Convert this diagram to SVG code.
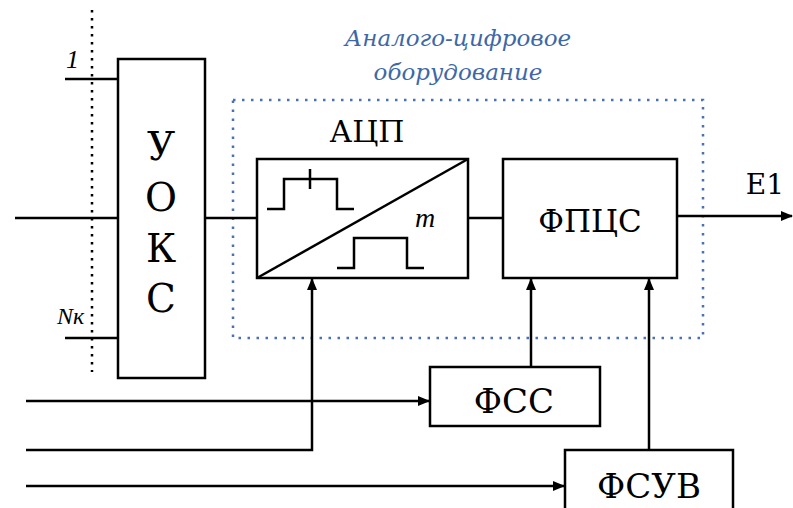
<svg xmlns="http://www.w3.org/2000/svg" width="793" height="508" viewBox="0 0 793 508">
<style>
.box{fill:#fff;stroke:#000;stroke-width:2.5}
.ln{fill:none;stroke:#000;stroke-width:2.5}
.t{font-family:"DejaVu Serif",serif;fill:#000;text-anchor:middle}
.ti{font-family:"Liberation Serif","DejaVu Serif",serif;font-style:italic;fill:#000}
.blue{font-family:"DejaVu Serif",serif;font-style:italic;fill:#3d68a8;text-anchor:middle;font-size:23px}
</style>
<defs>
<marker id="ah" viewBox="0 0 12 10" refX="11" refY="5" markerWidth="12" markerHeight="10" markerUnits="userSpaceOnUse" orient="auto">
<path d="M0,0 L12,5 L0,10 Z" fill="#000"/>
</marker>
</defs>
<rect width="793" height="508" fill="#fff"/>
<line x1="92" y1="10" x2="92" y2="372" stroke="#000" stroke-width="2.5" stroke-dasharray="2.5 5.5"/>
<rect x="233" y="100" width="470" height="238" fill="none" stroke="#4a72b0" stroke-width="2.5" stroke-dasharray="2.5 6.5"/>
<text class="blue" x="458" y="46">Аналого-цифровое</text>
<text class="blue" x="458" y="80">оборудование</text>
<g id="connectors">
<line class="ln" x1="65" y1="79" x2="118" y2="79"/>
<line class="ln" x1="15" y1="218" x2="118" y2="218"/>
<line class="ln" x1="65" y1="338" x2="118" y2="338"/>
<line class="ln" x1="205" y1="218" x2="257" y2="218"/>
<line class="ln" x1="468" y1="218" x2="503" y2="218"/>
<line class="ln" x1="677" y1="216" x2="792" y2="216" marker-end="url(#ah)"/>
<polyline class="ln" points="26,450 312,450 312,279" marker-end="url(#ah)"/>
<line class="ln" x1="26" y1="401" x2="429" y2="401" marker-end="url(#ah)"/>
<line class="ln" x1="531" y1="367" x2="531" y2="279" marker-end="url(#ah)"/>
<line class="ln" x1="26" y1="486" x2="564" y2="486" marker-end="url(#ah)"/>
<line class="ln" x1="649" y1="450" x2="649" y2="279" marker-end="url(#ah)"/>
</g>
<text class="ti" x="66" y="68" font-size="26">1</text>
<text class="ti" x="57" y="324" font-size="24">Nк</text>
<g id="uoks">
<rect class="box" x="118" y="59" width="87" height="319"/>
<text class="t" x="161" y="160" font-size="39">У</text>
<text class="t" x="161" y="211" font-size="39">О</text>
<text class="t" x="161" y="262" font-size="39">К</text>
<text class="t" x="161" y="312" font-size="39">С</text>
</g>
<g id="adc">
<text class="t" x="367" y="142" font-size="30">АЦП</text>
<rect class="box" x="257" y="159" width="211" height="119"/>
<line class="ln" x1="257" y1="278" x2="468" y2="159"/>
<polyline class="ln" points="267,209 284,209 284,179 337,179 337,209 354,209"/>
<line class="ln" x1="310" y1="169" x2="310" y2="189"/>
<polyline class="ln" points="337,268 354,268 354,238 407,238 407,268 424,268"/>
<text class="ti" x="415" y="227" font-size="28">m</text>
</g>
<g id="fpcs">
<rect class="box" x="503" y="159" width="174" height="119"/>
<text class="t" x="590" y="232" font-size="31">ФПЦС</text>
</g>
<text class="t" x="765" y="194" font-size="28">E1</text>
<g id="fss">
<rect class="box" x="430" y="367" width="170" height="59"/>
<text class="t" x="514" y="413" font-size="34">ФСС</text>
</g>
<g id="fsuv">
<rect class="box" x="565" y="450" width="168" height="70"/>
<text class="t" x="649" y="498" font-size="34">ФСУВ</text>
</g>
</svg>
